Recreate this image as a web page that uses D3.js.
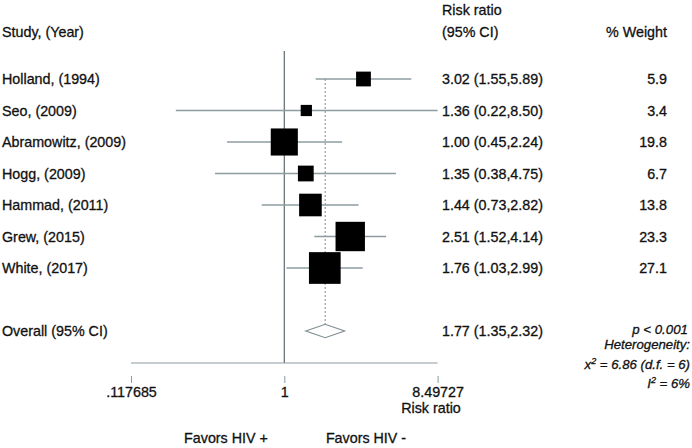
<!DOCTYPE html>
<html>
<head>
<meta charset="utf-8">
<script src="https://cdn.jsdelivr.net/npm/d3@7"></script>
<style>
  body { margin: 0; background: #fff; }
  svg { display: block; font-family: "Liberation Sans", Arial, Helvetica, sans-serif; }
  svg text { stroke: #111; stroke-width: 0.3px; }
</style>
</head>
<body>
<svg id="chart" width="692" height="448"></svg>
<script>
// ---- data ----
const studies   = ["Holland, (1994)", "Seo, (2009)", "Abramowitz, (2009)", "Hogg, (2009)", "Hammad, (2011)", "Grew, (2015)", "White, (2017)"];
const rr        = [3.02, 1.36, 1.00, 1.35, 1.44, 2.51, 1.76];
const lower     = [1.55, 0.22, 0.45, 0.38, 0.73, 1.52, 1.03];
const upper     = [5.89, 8.50, 2.24, 4.75, 2.82, 4.14, 2.99];
const weights   = [5.9, 3.4, 19.8, 6.7, 13.8, 23.3, 27.1];
const overall   = { rr: 1.77, lower: 1.35, upper: 2.32 };
const tickVals  = [0.117685, 1, 8.49727];
const tickLabels = [".117685", "1", "8.49727"];

const fmt = d3.format(".2f");

const svg = d3.select("#chart");
const ink = "#111";
const lineGray = "#8d9ca1";
const refGray = "#5f6a6e";

const x = d3.scaleLog().domain([tickVals[0], tickVals[2]]).range([131, 437.6]);
const y = d3.scaleLinear().domain([0, 8]).range([79, 331]);
const size = d3.scaleSqrt().domain([0, 27.1]).range([0, 31.7]);
const clampX = v => x(Math.max(tickVals[0], Math.min(tickVals[2], v)));

const fs = 14.3;

// headers
svg.append("text").attr("x", 2).attr("y", 36.5).attr("font-size", fs).attr("fill", ink).text("Study, (Year)");
svg.append("text").attr("x", 442).attr("y", 15).attr("font-size", fs).attr("fill", ink).text("Risk ratio");
svg.append("text").attr("x", 442).attr("y", 36.5).attr("font-size", fs).attr("fill", ink).text("(95% CI)");
svg.append("text").attr("x", 667).attr("y", 36.5).attr("font-size", fs).attr("fill", ink).attr("text-anchor", "end").text("% Weight");

// reference line at 1
svg.append("line")
  .attr("x1", x(1)).attr("x2", x(1)).attr("y1", 51).attr("y2", 363)
  .attr("stroke", refGray).attr("stroke-width", 1.2);

// dashed overall line
svg.append("line")
  .attr("x1", x(overall.rr)).attr("x2", x(overall.rr))
  .attr("y1", y(0)).attr("y2", y(8) - 6.7)
  .attr("stroke", lineGray).attr("stroke-width", 1.2).attr("stroke-dasharray", "2,2");

// study rows
const rows = studies.map((s, i) => ({ s, rr: rr[i], lo: lower[i], hi: upper[i], w: weights[i], i }));

const g = svg.append("g");
g.selectAll("line.ci").data(rows).join("line")
  .attr("class", "ci")
  .attr("x1", d => clampX(d.lo)).attr("x2", d => clampX(d.hi))
  .attr("y1", d => y(d.i)).attr("y2", d => y(d.i))
  .attr("stroke", lineGray).attr("stroke-width", 1.3);

g.selectAll("rect.box").data(rows).join("rect")
  .attr("class", "box")
  .attr("x", d => x(d.rr) - size(d.w) / 2)
  .attr("y", d => y(d.i) - size(d.w) / 2)
  .attr("width", d => size(d.w)).attr("height", d => size(d.w))
  .attr("fill", "#000");

g.selectAll("text.lab").data(rows).join("text")
  .attr("class", "lab")
  .attr("x", 2).attr("y", d => y(d.i) + 5)
  .attr("font-size", fs).attr("fill", ink).text(d => d.s);

g.selectAll("text.est").data(rows).join("text")
  .attr("class", "est")
  .attr("x", 442).attr("y", d => y(d.i) + 5)
  .attr("font-size", fs).attr("fill", ink)
  .text(d => `${fmt(d.rr)} (${fmt(d.lo)},${fmt(d.hi)})`);

g.selectAll("text.wt").data(rows).join("text")
  .attr("class", "wt")
  .attr("x", 667).attr("y", d => y(d.i) + 5)
  .attr("font-size", fs).attr("fill", ink).attr("text-anchor", "end")
  .text(d => d.w.toFixed(1));

// overall row
const yo = y(8);
svg.append("path")
  .attr("d", `M${x(overall.lower)},${yo} L${x(overall.rr)},${yo - 6.7} L${x(overall.upper)},${yo} L${x(overall.rr)},${yo + 6.7} Z`)
  .attr("fill", "#fff").attr("stroke", "#7f8e92").attr("stroke-width", 1.2);
svg.append("text").attr("x", 2).attr("y", yo + 5).attr("font-size", fs).attr("fill", ink).text("Overall (95% CI)");
svg.append("text").attr("x", 442).attr("y", yo + 5).attr("font-size", fs).attr("fill", ink)
  .text(`${fmt(overall.rr)} (${fmt(overall.lower)},${fmt(overall.upper)})`);
svg.append("text").attr("x", 688).attr("y", yo + 3).attr("font-size", 13.3).attr("font-style", "italic")
  .attr("fill", ink).attr("text-anchor", "end").text("p < 0.001");

// axis
svg.append("line").attr("x1", x.range()[0]).attr("x2", x.range()[1]).attr("y1", 363).attr("y2", 363)
  .attr("stroke", lineGray).attr("stroke-width", 1.2);
const axis = d3.axisBottom(x).tickValues(tickVals).tickFormat((d, i) => tickLabels[i])
  .tickSizeInner(7).tickSizeOuter(0).tickPadding(4);
const ag = svg.append("g").attr("transform", "translate(0,376)").call(axis);
ag.select(".domain").remove();
ag.selectAll(".tick line").attr("stroke", lineGray).attr("stroke-width", 1);
ag.selectAll(".tick text").attr("font-size", fs).attr("fill", ink)
  .attr("font-family", "\"Liberation Sans\", Arial, sans-serif");

svg.append("text").attr("x", 431).attr("y", 413).attr("font-size", fs).attr("fill", ink)
  .attr("text-anchor", "middle").text("Risk ratio");

svg.append("text").attr("x", 226).attr("y", 443).attr("font-size", fs).attr("fill", ink)
  .attr("text-anchor", "middle").text("Favors HIV +");
svg.append("text").attr("x", 366).attr("y", 443).attr("font-size", fs).attr("fill", ink)
  .attr("text-anchor", "middle").text("Favors HIV -");

// heterogeneity
const hfs = 13.2;
svg.append("text").attr("x", 690).attr("y", 349).attr("font-size", hfs).attr("font-style", "italic")
  .attr("fill", ink).attr("text-anchor", "end").text("Heterogeneity:");
const t2 = svg.append("text").attr("x", 690).attr("y", 368.5).attr("font-size", hfs).attr("font-style", "italic")
  .attr("fill", ink).attr("text-anchor", "end");
t2.append("tspan").text("x");
t2.append("tspan").attr("font-size", 9).attr("dy", -5).text("2");
t2.append("tspan").attr("dy", 5).text(" =  6.86 (d.f. = 6)");
const t3 = svg.append("text").attr("x", 690).attr("y", 388).attr("font-size", hfs).attr("font-style", "italic")
  .attr("fill", ink).attr("text-anchor", "end");
t3.append("tspan").text("I");
t3.append("tspan").attr("font-size", 9).attr("dy", -5).text("2");
t3.append("tspan").attr("dy", 5).text(" = 6%");
</script>
</body>
</html>
